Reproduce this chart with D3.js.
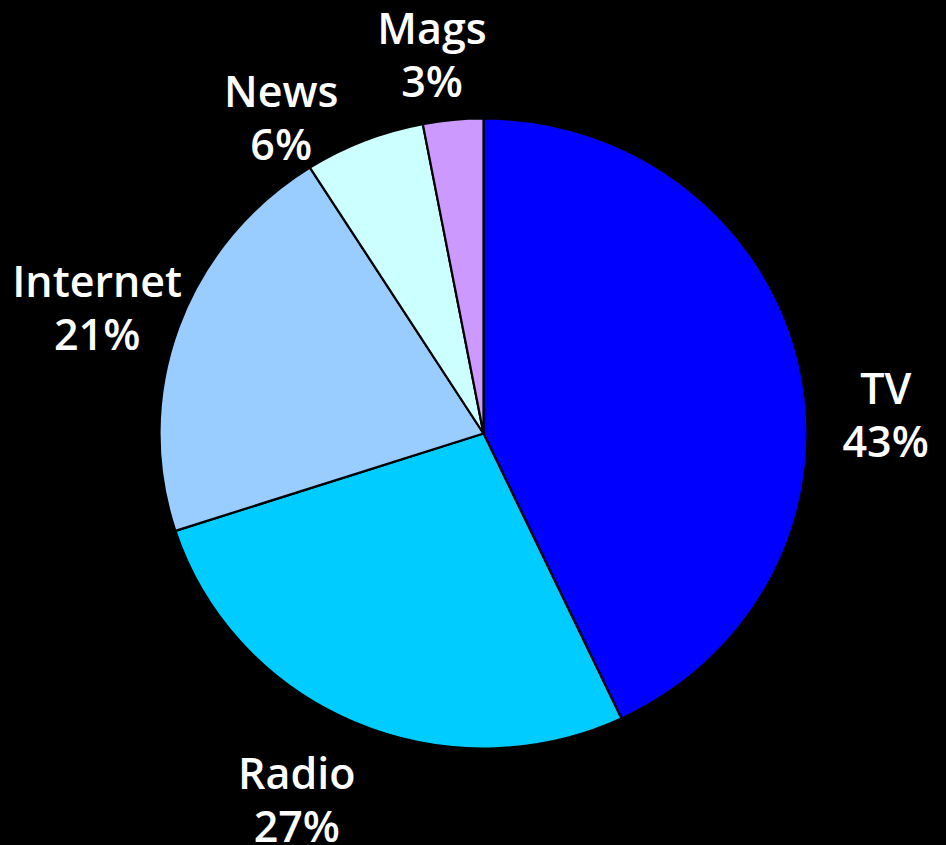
<!DOCTYPE html>
<html>
<head>
<meta charset="utf-8">
<script src="https://cdn.jsdelivr.net/npm/d3@7"></script>
<style>
  html, body { margin: 0; padding: 0; background: #000; }
  svg { display: block; }
</style>
</head>
<body>
<svg id="chart" width="946" height="845"></svg>
<script>
// Media share, clockwise from 12 o'clock
const categories = ["TV", "Radio", "Internet", "News", "Mags"];
const shares = [43, 27, 21, 6, 3];
const colors = ["#0000FF", "#00CCFF", "#99CCFF", "#CCFFFF", "#CC99FF"];

const W = 946, H = 845;
const cx = 483.5, cy = 433.5;
const rx = 324, ry = 315;   // the pie is drawn slightly wider than tall

// label block centre, relative to each slice's outer edge midpoint
const labelShift = [[86, 49.5], [-58, 76.5], [-81.5, -19], [-83, -23], [-21, -65.5]];
const lineGap = 53;

const svg = d3.select("#chart");
svg.append("rect").attr("width", W).attr("height", H).attr("fill", "#000");

const data = categories.map((c, i) => ({ name: c, value: shares[i], color: colors[i], i }));
const pie = d3.pie().value(d => d.value).sort(null);
const arcs = pie(data);
const arc = d3.arc().innerRadius(0).outerRadius(ry);

const g = svg.append("g")
  .attr("transform", `translate(${cx},${cy}) scale(${rx / ry},1)`);

g.selectAll("path")
  .data(arcs)
  .join("path")
  .attr("d", arc)
  .attr("fill", d => d.data.color)
  .attr("stroke", "#000")
  .attr("stroke-width", 2.2)
  .attr("vector-effect", "non-scaling-stroke")
  .attr("stroke-linejoin", "round");

const labels = svg.append("g")
  .attr("font-family", "'Open Sans', sans-serif")
  .attr("font-size", 43)
  .attr("font-weight", 600)
  .attr("fill", "#fff")
  .attr("text-anchor", "middle");

arcs.forEach(a => {
  const mid = (a.startAngle + a.endAngle) / 2;
  const ex = cx + rx * Math.sin(mid);
  const ey = cy - ry * Math.cos(mid);
  const [sx, sy] = labelShift[a.data.i];
  const x = ex + sx, y = ey + sy;
  const t = labels.append("text").attr("x", x).attr("y", y - 10.5);
  t.append("tspan").attr("x", x).text(a.data.name);
  t.append("tspan").attr("x", x).attr("dy", lineGap).text(a.data.value + "%");
});
</script>
</body>
</html>
